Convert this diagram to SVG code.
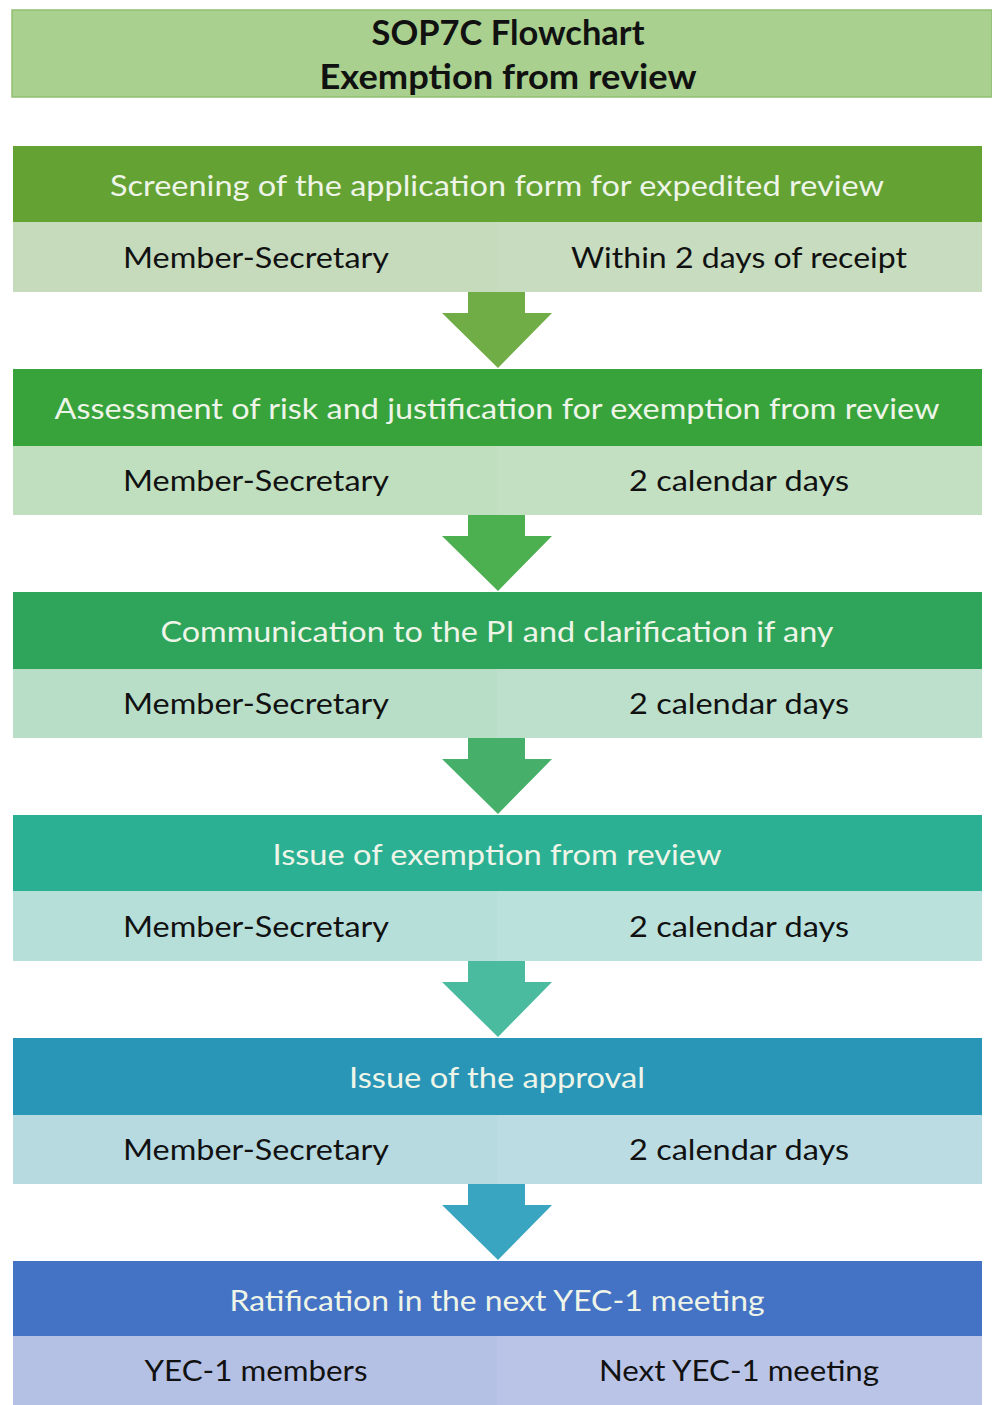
<svg xmlns="http://www.w3.org/2000/svg" width="992" height="1405" viewBox="0 0 992 1405">
<style>
.t{font-family:Lato,"Open Sans","Liberation Sans",sans-serif;text-anchor:middle}
.h{fill:#eef5e8;font-size:29px}
.c{fill:#111;font-size:29px}
.ttl{fill:#111;font-size:34px;font-weight:bold}
</style>
<rect width="992" height="1405" fill="#ffffff"/>
<g id="title">
<rect x="12" y="10" width="980" height="87" fill="#a9d08e" stroke="#8fbf72" stroke-width="1.5"/>
<text class="t ttl" x="508" y="45" textLength="273" lengthAdjust="spacingAndGlyphs">SOP7C Flowchart</text>
<text class="t ttl" x="508" y="89" textLength="377" lengthAdjust="spacingAndGlyphs">Exemption from review</text>
</g>
<g id="connectors">
<path d="M468,292 H525 V313 H552 L498,368 L442,313 H468 Z" fill="#70ad47"/>
<path d="M468,515 H525 V536 H552 L498,591 L442,536 H468 Z" fill="#4caf50"/>
<path d="M468,738 H525 V759 H552 L498,814 L442,759 H468 Z" fill="#46b06a"/>
<path d="M468,961 H525 V982 H552 L498,1037 L442,982 H468 Z" fill="#4bbba0"/>
<path d="M468,1184 H525 V1205 H552 L498,1260 L442,1205 H468 Z" fill="#3aa5c0"/>
</g>
<g id="step1">
<rect x="13" y="146" width="969" height="76" fill="#64a234"/>
<rect x="13" y="222" width="484" height="70" fill="#c5dbbc"/>
<rect x="497" y="222" width="485" height="70" fill="#c8ddc0"/>
<text class="t h" x="497" y="196" textLength="774" lengthAdjust="spacingAndGlyphs">Screening of the application form for expedited review</text>
<text class="t c" x="256" y="268" textLength="266" lengthAdjust="spacingAndGlyphs">Member-Secretary</text>
<text class="t c" x="739" y="268" textLength="336" lengthAdjust="spacingAndGlyphs">Within 2 days of receipt</text>
</g>
<g id="step2">
<rect x="13" y="369" width="969" height="77" fill="#38a33b"/>
<rect x="13" y="446" width="484" height="69" fill="#c0dfbf"/>
<rect x="497" y="446" width="485" height="69" fill="#c3e0c2"/>
<text class="t h" x="497" y="419" textLength="885" lengthAdjust="spacingAndGlyphs">Assessment of risk and justification for exemption from review</text>
<text class="t c" x="256" y="491" textLength="266" lengthAdjust="spacingAndGlyphs">Member-Secretary</text>
<text class="t c" x="739" y="491" textLength="220" lengthAdjust="spacingAndGlyphs">2 calendar days</text>
</g>
<g id="step3">
<rect x="13" y="592" width="969" height="77" fill="#2ea55a"/>
<rect x="13" y="669" width="484" height="69" fill="#b8dec8"/>
<rect x="497" y="669" width="485" height="69" fill="#bce0cb"/>
<text class="t h" x="497" y="642" textLength="673" lengthAdjust="spacingAndGlyphs">Communication to the PI and clarification if any</text>
<text class="t c" x="256" y="714" textLength="266" lengthAdjust="spacingAndGlyphs">Member-Secretary</text>
<text class="t c" x="739" y="714" textLength="220" lengthAdjust="spacingAndGlyphs">2 calendar days</text>
</g>
<g id="step4">
<rect x="13" y="815" width="969" height="76" fill="#2bb093"/>
<rect x="13" y="891" width="484" height="70" fill="#b7dfda"/>
<rect x="497" y="891" width="485" height="70" fill="#bbe1dc"/>
<text class="t h" x="497" y="865" textLength="449" lengthAdjust="spacingAndGlyphs">Issue of exemption from review</text>
<text class="t c" x="256" y="937" textLength="266" lengthAdjust="spacingAndGlyphs">Member-Secretary</text>
<text class="t c" x="739" y="937" textLength="220" lengthAdjust="spacingAndGlyphs">2 calendar days</text>
</g>
<g id="step5">
<rect x="13" y="1038" width="969" height="77" fill="#2996b8"/>
<rect x="13" y="1115" width="484" height="69" fill="#b7d9e0"/>
<rect x="497" y="1115" width="485" height="69" fill="#bbdce3"/>
<text class="t h" x="497" y="1088" textLength="296" lengthAdjust="spacingAndGlyphs">Issue of the approval</text>
<text class="t c" x="256" y="1160" textLength="266" lengthAdjust="spacingAndGlyphs">Member-Secretary</text>
<text class="t c" x="739" y="1160" textLength="220" lengthAdjust="spacingAndGlyphs">2 calendar days</text>
</g>
<g id="step6">
<rect x="13" y="1261" width="969" height="75" fill="#4472c4"/>
<rect x="13" y="1336" width="484" height="69" fill="#b4c0e4"/>
<rect x="497" y="1336" width="485" height="69" fill="#b9c4e6"/>
<text class="t h" x="497" y="1311" textLength="535" lengthAdjust="spacingAndGlyphs">Ratification in the next YEC-1 meeting</text>
<text class="t c" x="256" y="1381" textLength="223" lengthAdjust="spacingAndGlyphs">YEC-1 members</text>
<text class="t c" x="739" y="1381" textLength="280" lengthAdjust="spacingAndGlyphs">Next YEC-1 meeting</text>
</g>
</svg>
